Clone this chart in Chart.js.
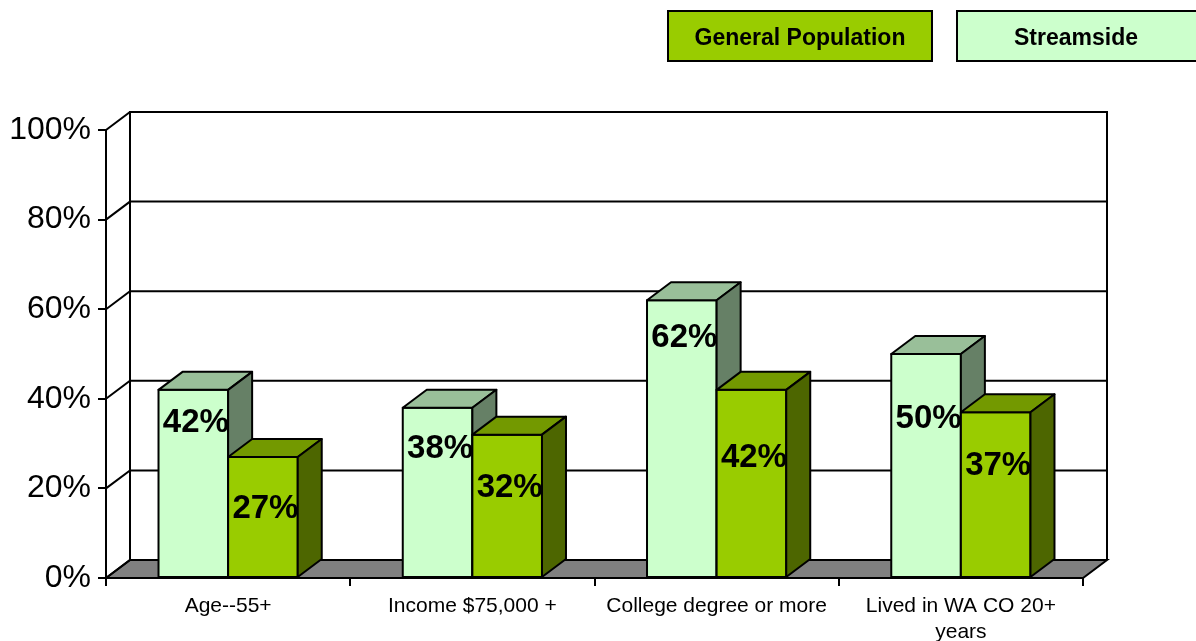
<!DOCTYPE html>
<html>
<head>
<meta charset="utf-8">
<title>Streamside vs General Population</title>
<script src="https://cdn.jsdelivr.net/npm/chart.js@4.4.1/dist/chart.umd.min.js"></script>
<style>
  html, body { margin: 0; padding: 0; background: #fff; }
  #wrap { width: 1196px; height: 641px; position: relative; }
</style>
</head>
<body>
<div id="wrap"><canvas id="chart"></canvas></div>
<script>
// ---- data ----
const categories = ['Age--55+', 'Income $75,000 +', 'College degree or more', ['Lived in WA CO 20+', 'years']];
const streamside = [42, 38, 62, 50];
const generalPopulation = [27, 32, 42, 37];
const yTickValues = [0, 20, 40, 60, 80, 100];
const seriesNames = ['Streamside', 'General Population'];

const FONT = 'Arial, "Liberation Sans", sans-serif';

// Shade a hex colour by a factor (used for top / side faces of the 3D bars)
function shade(hex, f) {
  const n = parseInt(hex.slice(1), 16);
  const r = Math.round(((n >> 16) & 255) * f);
  const g = Math.round(((n >> 8) & 255) * f);
  const b = Math.round((n & 255) * f);
  return `rgb(${r},${g},${b})`;
}

// Plugin: 3D walls, floor, extruded bars, value labels and box legend
const bar3d = {
  id: 'bar3d',
  beforeDraw(chart, args, opts) {
    const { ctx, chartArea: a, scales: { y } } = chart;
    const dx = opts.depthX, dy = opts.depthY;
    ctx.save();
    ctx.lineWidth = 2;
    ctx.strokeStyle = '#000';
    // floor
    ctx.beginPath();
    ctx.moveTo(a.left, a.bottom);
    ctx.lineTo(a.left + dx, a.bottom - dy);
    ctx.lineTo(a.right + dx, a.bottom - dy);
    ctx.lineTo(a.right, a.bottom);
    ctx.closePath();
    ctx.fillStyle = opts.floorColor;
    ctx.fill();
    ctx.stroke();
    // back wall frame
    ctx.beginPath();
    ctx.moveTo(a.left + dx, a.bottom - dy);
    ctx.lineTo(a.left + dx, a.top - dy);
    ctx.lineTo(a.right + dx, a.top - dy);
    ctx.lineTo(a.right + dx, a.bottom - dy);
    ctx.stroke();
    // gridlines: diagonal on side wall + horizontal on back wall
    y.ticks.forEach(t => {
      const py = y.getPixelForValue(t.value);
      ctx.beginPath();
      ctx.moveTo(a.left, py);
      ctx.lineTo(a.left + dx, py - dy);
      ctx.lineTo(a.right + dx, py - dy);
      ctx.stroke();
    });
    ctx.restore();
  },
  beforeDatasetDraw() {
    // bars are drawn in series order below, so skip the default pass
    return false;
  },
  afterDatasetsDraw(chart, args, opts) {
    const { ctx } = chart;
    const dx = opts.depthX, dy = opts.depthY;
    ctx.save();
    ctx.lineWidth = 2;
    ctx.strokeStyle = '#000';
    ctx.lineJoin = 'round';
    chart.data.datasets.forEach((ds, di) => {
      const meta = chart.getDatasetMeta(di);
      const base = ds.backgroundColor;
      meta.data.forEach(el => {
        const { x, y, base: b, width } = el.getProps(['x', 'y', 'base', 'width'], true);
        const l = x - width / 2, r = x + width / 2;
        el.draw(ctx, chart.chartArea);
        ctx.strokeRect(l, y, width, b - y);
        // top face
        ctx.beginPath();
        ctx.moveTo(l, y);
        ctx.lineTo(l + dx, y - dy);
        ctx.lineTo(r + dx, y - dy);
        ctx.lineTo(r, y);
        ctx.closePath();
        ctx.fillStyle = shade(base, 0.75);
        ctx.fill();
        ctx.stroke();
        // side face
        ctx.beginPath();
        ctx.moveTo(r, y);
        ctx.lineTo(r + dx, y - dy);
        ctx.lineTo(r + dx, b - dy);
        ctx.lineTo(r, b);
        ctx.closePath();
        ctx.fillStyle = shade(base, 0.5);
        ctx.fill();
        ctx.stroke();
      });
    });
    // value labels
    ctx.fillStyle = '#000';
    ctx.font = `bold 33px ${FONT}`;
    ctx.textAlign = 'center';
    ctx.textBaseline = 'alphabetic';
    chart.data.datasets.forEach((ds, di) => {
      const meta = chart.getDatasetMeta(di);
      meta.data.forEach((el, i) => {
        const { x, y } = el.getProps(['x', 'y'], true);
        ctx.fillText(ds.data[i] + '%', x + opts.labelShiftX, y + opts.labelDrop[di][i]);
      });
    });
    ctx.restore();
  },
  afterDraw(chart, args, opts) {
    const { ctx } = chart;
    ctx.save();
    ctx.lineWidth = 2;
    ctx.strokeStyle = '#000';
    ctx.font = `bold 23px ${FONT}`;
    ctx.textAlign = 'center';
    ctx.textBaseline = 'alphabetic';
    const sets = chart.data.datasets.slice().reverse();
    sets.forEach((ds, i) => {
      const box = opts.legendBoxes[i];
      ctx.fillStyle = ds.backgroundColor;
      ctx.fillRect(box.x, box.y, box.w, box.h);
      ctx.strokeRect(box.x, box.y, box.w, box.h);
      ctx.fillStyle = '#000';
      ctx.fillText(ds.label, box.tx, box.ty);
    });
    ctx.restore();
  }
};

new Chart(document.getElementById('chart'), {
  type: 'bar',
  data: {
    labels: categories,
    datasets: [
      { label: seriesNames[0], data: streamside, backgroundColor: '#CCFFCC', borderWidth: 0 },
      { label: seriesNames[1], data: generalPopulation, backgroundColor: '#99CC00', borderWidth: 0 }
    ]
  },
  options: {
    responsive: true,
    maintainAspectRatio: false,
    animation: false,
    events: [],
    layout: { padding: { top: 130, right: 113, left: 0, bottom: 0 } },
    datasets: { bar: { categoryPercentage: 0.57, barPercentage: 1 } },
    plugins: {
      legend: { display: false },
      tooltip: { enabled: false },
      bar3d: {
        depthX: 24,
        depthY: 18,
        floorColor: '#808080',
        labelShiftX: 2.5,
        labelDrop: [[42, 50, 47, 74], [61, 62, 77, 63]],
        legendBoxes: [
          { x: 668, y: 11, w: 264, h: 50, tx: 800, ty: 45 },
          { x: 957, y: 11, w: 240, h: 50, tx: 1076, ty: 45 }
        ]
      }
    },
    scales: {
      x: {
        afterFit(s) { s.height = 63; },
        grid: { offset: true, drawOnChartArea: false, drawTicks: true, tickLength: 8, color: '#000', lineWidth: 2 },
        border: { display: true, color: '#000', width: 2 },
        ticks: { color: '#000', font: { family: FONT, size: 21, lineHeight: 1.2 }, padding: 8, maxRotation: 0, autoSkip: false }
      },
      y: {
        min: 0,
        max: 100,
        afterFit(s) { s.width = 106; },
        afterBuildTicks(s) { s.ticks = yTickValues.map(v => ({ value: v })); },
        grid: { drawOnChartArea: false, drawTicks: true, tickLength: 8, color: '#000', lineWidth: 2 },
        border: { display: true, color: '#000', width: 2 },
        ticks: { color: '#000', font: { family: FONT, size: 32 }, padding: 7, callback: v => v + '%' }
      }
    }
  },
  plugins: [bar3d]
});
</script>
</body>
</html>
